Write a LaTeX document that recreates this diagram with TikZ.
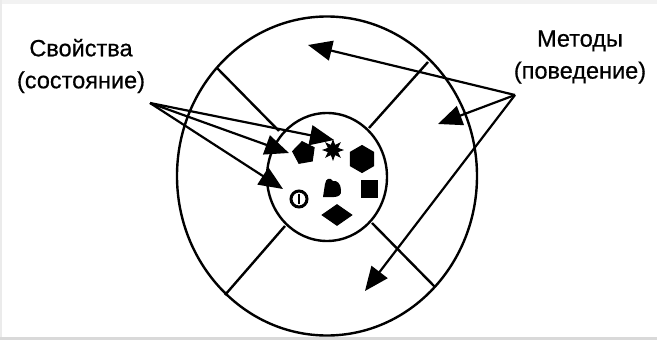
\documentclass[tikz,border=0pt]{standalone}
\usepackage{fontspec}
\setmainfont{Liberation Sans}
\usetikzlibrary{arrows.meta,shapes.geometric,shapes.symbols}
\begin{document}
\begin{tikzpicture}[x=1pt,y=-1pt,
  line/.style={line width=2.4pt},
  arr/.style={line width=2.2pt,-{Triangle[length=24pt,width=20pt]}},
  lbl/.style={font=\fontsize{23.5}{32}\selectfont\addfontfeature{FakeBold=0.6},align=center,inner sep=0pt},
  blob/.style={fill=black,draw=black,line width=1pt,inner sep=0pt}]
\useasboundingbox (0,0) rectangle (657,340);
\fill[white] (0,0) rectangle (657,340);
\fill[black!5] (0,0) rectangle (657,4);
\fill[black!8] (0,0) rectangle (2,340);
\fill[black!15] (0,337) rectangle (657,340);
% circles
\node[draw,line width=2.4pt,ellipse,minimum width=300pt,minimum height=319pt,inner sep=0pt] (outer) at (327,176) {};
\node[draw,line width=2.4pt,ellipse,minimum width=120pt,minimum height=128pt,inner sep=0pt] (inner) at (327,177) {};
% spokes
\coordinate (s1a) at (217,68);  \coordinate (s1b) at (279,131);
\coordinate (s2a) at (428,62);  \coordinate (s2b) at (369,128);
\coordinate (s3a) at (225,295); \coordinate (s3b) at (285,226);
\coordinate (s4a) at (435,287); \coordinate (s4b) at (372,223);
\draw[line] (s1a) -- (s1b);
\draw[line] (s2a) -- (s2b);
\draw[line] (s3a) -- (s3b);
\draw[line] (s4a) -- (s4b);
% labels
\node[lbl] (props) at (81,66) {Свойства\\(состояние)};
\node[lbl] (meth) at (580,57) {Методы\\(поведение)};
\coordinate (pp) at (150,103);
\coordinate (mp) at (515,95);
\coordinate (pt1) at (334,140);
\coordinate (pt2) at (289,153);
\coordinate (pt3) at (283,189);
\coordinate (mt1) at (308,45);
\coordinate (mt2) at (438,124);
\coordinate (mt3) at (365,291);
\draw[arr] (pp) -- (pt1);
\draw[arr] (pp) -- (pt2);
\draw[arr] (pp) -- (pt3);
\draw[arr] (mp) -- (mt1);
\draw[arr] (mp) -- (mt2);
\draw[arr] (mp) -- (mt3);
% shapes inside
\node[blob,regular polygon,regular polygon sides=5,minimum size=23pt,rotate=10] (sh1) at (304,153) {};
\node[blob,star,star points=8,star point ratio=2.0,minimum size=19pt] (sh2) at (333,150) {};
\node[blob,regular polygon,regular polygon sides=6,minimum size=27pt,rotate=30] (sh3) at (362,159) {};
\node[blob,minimum width=16pt,minimum height=17pt] (sh5) at (369,189) {};
\node[blob,diamond,minimum width=30pt,minimum height=21pt] (sh7) at (337,215) {};
\fill (323,197) -- (325,184) .. controls (326,178) and (330,177) .. (333,181) .. controls (337,180) and (341,184) .. (341,190) .. controls (342,195) and (338,197) .. (334,197) -- cycle;
\node[draw,line width=3pt,ellipse,minimum width=16pt,minimum height=16pt,inner sep=0pt] (sh6) at (299,199) {};
\draw[line width=2.2pt] (299,194) -- (299,204);
\end{tikzpicture}
\end{document}
